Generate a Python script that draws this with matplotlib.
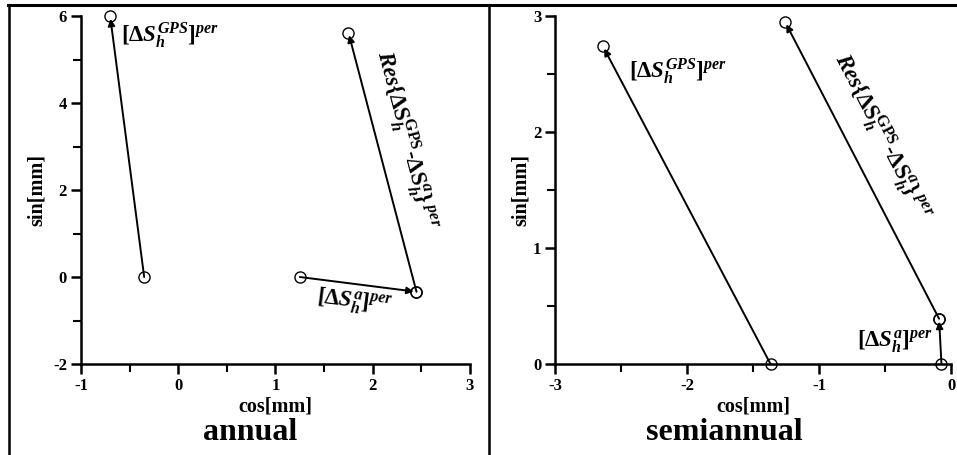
import numpy as np
import matplotlib
matplotlib.use("Agg")
import matplotlib.pyplot as plt
from matplotlib.lines import Line2D
from matplotlib.ticker import MultipleLocator

plt.rcParams['font.family'] = ['Liberation Serif', 'DejaVu Serif']
plt.rcParams['font.weight'] = 'bold'
plt.rcParams['axes.unicode_minus'] = False
plt.rcParams['mathtext.fontset'] = 'custom'
plt.rcParams['mathtext.rm'] = 'Liberation Serif:bold'
plt.rcParams['mathtext.it'] = 'Liberation Serif:bold:italic'
plt.rcParams['mathtext.bf'] = 'Liberation Serif:bold'

# vectors: (x0, y0) -> (x1, y1) in mm
annual_gps = [(-0.35, 0.0), (-0.70, 6.0)]
annual_a = [(1.25, 0.0), (2.45, -0.34)]
annual_res = [(2.45, -0.34), (1.75, 5.62)]

semi_gps = [(-1.37, 0.0), (-2.64, 2.74)]
semi_a = [(-0.075, 0.0), (-0.093, 0.39)]
semi_res = [(-0.093, 0.39), (-1.26, 2.95)]

lbl_gps = r'$[\Delta S_h^{GPS}]^{per}$'
lbl_a = r'$[\Delta S_h^{a}]^{per}$'
lbl_res = r'$Res\{\Delta\mathrm{S}_h^{\mathrm{GPS}}\mathrm{\text{-}}\Delta\mathrm{S}_h^{a}\}^{\ per}$'

fig = plt.figure(figsize=(9.57, 4.55), dpi=100)
ax1 = fig.add_axes([0.0846, 0.2, 0.4065, 0.7648])
ax2 = fig.add_axes([0.5803, 0.2, 0.4138, 0.7648])


def draw_vec(ax, vec):
    (x0, y0), (x1, y1) = vec
    ax.plot([x0, x1], [y0, y1], ls='none', marker='o', ms=8, mfc='none',
            mec='black', mew=1.0, zorder=3, clip_on=False)
    ax.annotate('', xy=(x1, y1), xytext=(x0, y0), annotation_clip=False,
                arrowprops=dict(arrowstyle='-|>', color='black', lw=1.4,
                                mutation_scale=10, shrinkA=0, shrinkB=2))


def vec_angle(ax, vec):
    (x0, y0), (x1, y1) = vec
    p0 = ax.transData.transform((x0, y0))
    p1 = ax.transData.transform((x1, y1))
    a = np.degrees(np.arctan2(p1[1] - p0[1], p1[0] - p0[0]))
    if a > 90:
        a -= 180
    if a < -90:
        a += 180
    return a


def style(ax, xlim, ylim, xmaj, ymaj, ylab_x):
    ax.set_xlim(*xlim)
    ax.set_ylim(*ylim)
    ax.xaxis.set_major_locator(MultipleLocator(xmaj))
    ax.xaxis.set_minor_locator(MultipleLocator(xmaj / 2))
    ax.yaxis.set_major_locator(MultipleLocator(ymaj))
    ax.yaxis.set_minor_locator(MultipleLocator(ymaj / 2))
    for s in ['top', 'right']:
        ax.spines[s].set_visible(False)
    for s in ['left', 'bottom']:
        ax.spines[s].set_linewidth(1.8)
    ax.tick_params(which='major', length=7, width=1.8, labelsize=12, pad=3)
    ax.tick_params(which='minor', length=6, width=1.5)
    for t in ax.get_xticklabels() + ax.get_yticklabels():
        t.set_fontweight('bold')
    ax.set_xlabel('cos[mm]', fontsize=14.5, fontweight='bold')
    ax.set_ylabel('sin[mm]', fontsize=14.5, fontweight='bold')
    ax.xaxis.set_label_coords(0.5, -0.093)
    ax.yaxis.set_label_coords(ylab_x, 0.5)


style(ax1, (-1, 3), (-2, 6), 1, 2, -0.087)
style(ax2, (-3, 0), (0, 3), 1, 1, -0.061)

for v in [annual_gps, annual_a, annual_res]:
    draw_vec(ax1, v)
for v in [semi_gps, semi_a, semi_res]:
    draw_vec(ax2, v)

fs = 16.5
ax1.text(-0.59, 5.55, lbl_gps, fontsize=fs, ha='left', va='center')
ax1.text(1.81, -0.6, lbl_a, fontsize=fs, ha='center', va='center',
         rotation=vec_angle(ax1, annual_a), rotation_mode='anchor')
ax1.text(2.35, 3.15, lbl_res, fontsize=fs, ha='center', va='center',
         rotation=vec_angle(ax1, annual_res), rotation_mode='anchor')

ax2.text(-2.44, 2.52, lbl_gps, fontsize=fs, ha='left', va='center')
ax2.text(-0.14, 0.19, lbl_a, fontsize=fs, ha='right', va='center')
ax2.text(-0.52, 1.96, lbl_res, fontsize=fs, ha='center', va='center',
         rotation=vec_angle(ax2, semi_res), rotation_mode='anchor')

fig.text(0.261, 1 - 433 / 455, 'annual', fontsize=23, fontweight='bold',
         ha='center', va='center')
fig.text(0.757, 1 - 433 / 455, 'semiannual', fontsize=23, fontweight='bold',
         ha='center', va='center')

# frame lines around the panels
fig.add_artist(Line2D([0.0085, 1.0], [0.988, 0.988], color='black', lw=2.2,
                      transform=fig.transFigure))
fig.add_artist(Line2D([0.0099, 0.0099], [0.0, 0.988], color='black', lw=1.8,
                      transform=fig.transFigure))
fig.add_artist(Line2D([0.511, 0.511], [0.0, 0.988], color='black', lw=1.8,
                      transform=fig.transFigure))

fig.savefig('out.png', dpi=100)
